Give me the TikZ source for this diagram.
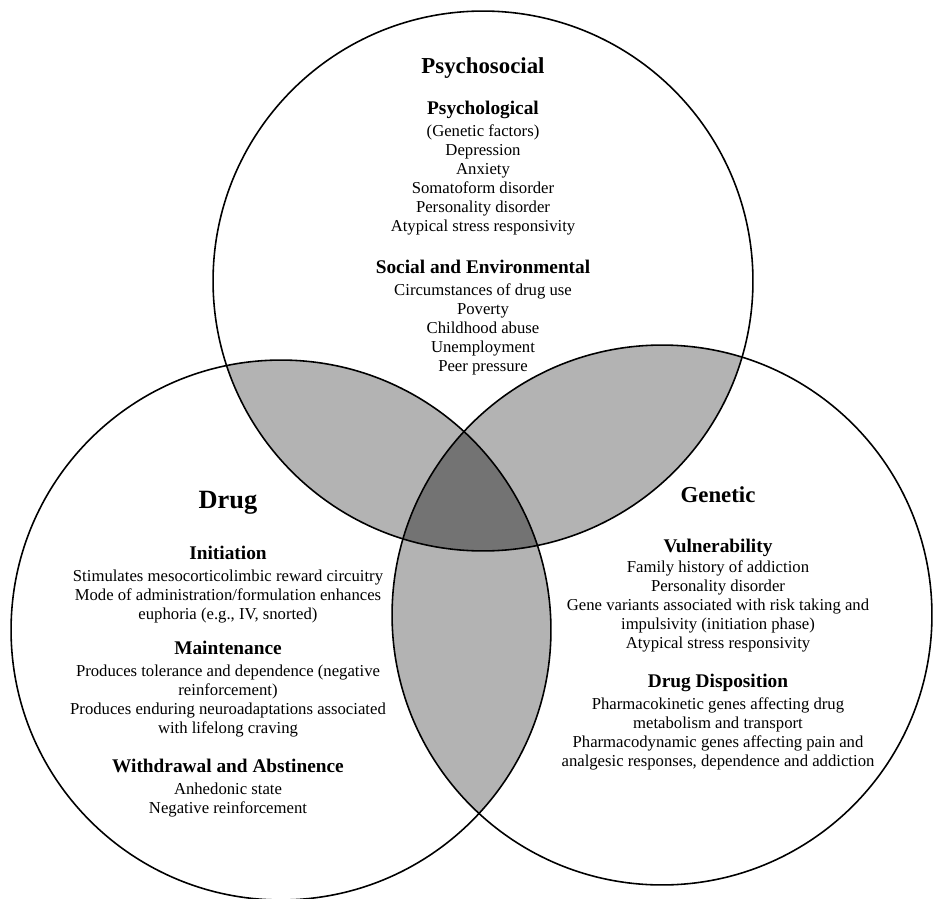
\documentclass[tikz,border=0pt]{standalone}
\usepackage{fontspec}
\setmainfont{Liberation Serif}
\usetikzlibrary{positioning}
\definecolor{pairgray}{RGB}{179,179,179}
\definecolor{coregray}{RGB}{115,115,115}

\begin{document}
\begin{tikzpicture}[
  x=0.02cm, y=-0.02cm,
  ring/.style={draw, line width=0.9pt},
  title/.style={font=\fontsize{13}{15}\selectfont\bfseries, inner sep=0pt},
  head/.style={font=\fontsize{11}{13}\selectfont\bfseries, inner sep=0pt, text height=7.5pt, text depth=2pt},
  body/.style={font=\fontsize{9.5}{10.8}\selectfont, align=center, inner sep=0pt},
]
\useasboundingbox (0,0) rectangle (933,899);

% === THREE CIRCLES ===
\coordinate (psy) at (483,281);
\coordinate (drg) at (281,630);
\coordinate (gen) at (662,615);
\def\rad{5.4cm}

\begin{scope}
  \clip (psy) circle[radius=\rad];
  \fill[pairgray] (drg) circle[radius=\rad];
  \fill[pairgray] (gen) circle[radius=\rad];
\end{scope}
\begin{scope}
  \clip (drg) circle[radius=\rad];
  \fill[pairgray] (gen) circle[radius=\rad];
\end{scope}
\begin{scope}
  \clip (psy) circle[radius=\rad];
  \clip (drg) circle[radius=\rad];
  \fill[coregray] (gen) circle[radius=\rad];
\end{scope}

\draw[ring] (psy) circle[radius=\rad];
\draw[ring] (drg) circle[radius=\rad];
\draw[ring] (gen) circle[radius=\rad];

% === PSYCHOSOCIAL ===
\node[title] (psyt) at (483,68) {Psychosocial};
\node[head] (psyh) at (483,110) {Psychological};
\node[body, below=3.5pt of psyh] (psyb) {(Genetic factors)\\Depression\\Anxiety\\Somatoform disorder\\Personality disorder\\Atypical stress responsivity};
\node[head] (soch) at (483,269) {Social and Environmental};
\node[body, below=3.5pt of soch] (socb) {Circumstances of drug use\\Poverty\\Childhood abuse\\Unemployment\\Peer pressure};

% === DRUG ===
\node[title, font=\fontsize{15}{17}\selectfont\bfseries] (drgt) at (228,503) {Drug};
\node[head] (inih) at (228,555) {Initiation};
\node[body, below=3.5pt of inih] (inib) {Stimulates mesocorticolimbic reward circuitry\\Mode of administration/formulation enhances\\euphoria (e.g., IV, snorted)};
\node[head] (mnth) at (228,650) {Maintenance};
\node[body, below=3.5pt of mnth] (mntb) {Produces tolerance and dependence (negative\\reinforcement)\\Produces enduring neuroadaptations associated\\with lifelong craving};
\node[head] (wdrh) at (228,768) {Withdrawal and Abstinence};
\node[body, below=3.5pt of wdrh] (wdrb) {Anhedonic state\\Negative reinforcement};

% === GENETIC ===
\node[title] (gent) at (718,495) {Genetic};
\node[head] (vulh) at (718,548) {Vulnerability};
\node[body, below=2pt of vulh] (vulb) {Family history of addiction\\Personality disorder\\Gene variants associated with risk taking and\\impulsivity (initiation phase)\\Atypical stress responsivity};
\node[head] (disph) at (718,683) {Drug Disposition};
\node[body, below=3pt of disph] (dispb) {Pharmacokinetic genes affecting drug\\metabolism and transport\\Pharmacodynamic genes affecting pain and\\analgesic responses, dependence and addiction};
\end{tikzpicture}
\end{document}
